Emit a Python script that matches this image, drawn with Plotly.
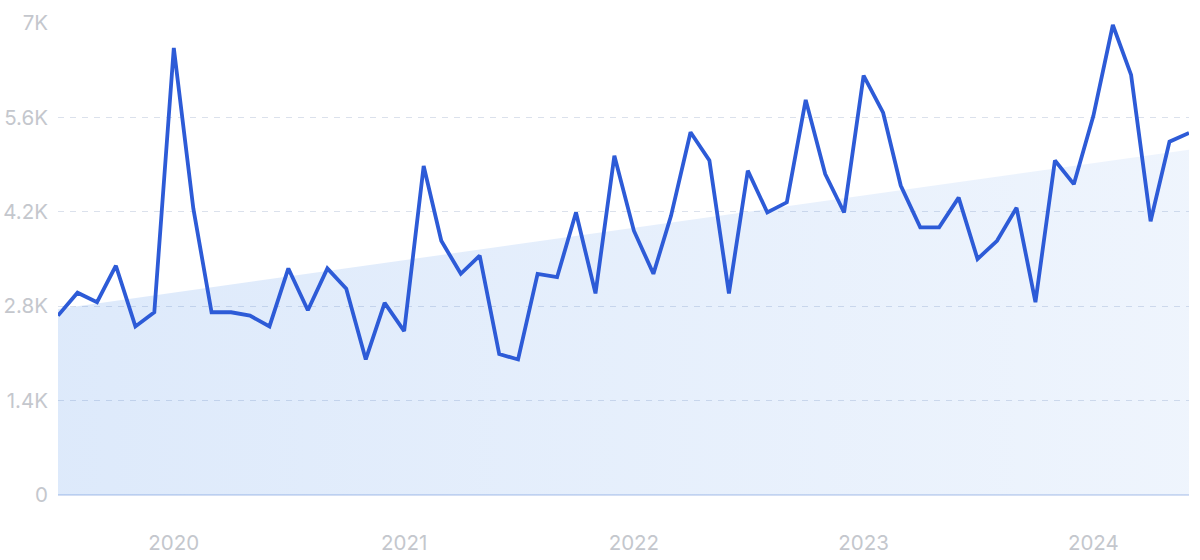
import plotly.graph_objects as go
import pandas as pd

months = pd.date_range("2019-07-01", "2024-06-01", freq="MS")
values = [
    2660, 3000, 2860, 3400, 2500, 2710,   # 2019 Jul-Dec
    6630, 4250, 2710, 2710, 2660, 2500,   # 2020 Jan-Jun
    3360, 2740, 3360, 3060, 2010, 2850,   # 2020 Jul-Dec
    2430, 4880, 3770, 3280, 3550, 2090,   # 2021 Jan-Jun
    2010, 3280, 3230, 4190, 2990, 5030,   # 2021 Jul-Dec
    3920, 3280, 4140, 5380, 4960, 2990,   # 2022 Jan-Jun
    4810, 4190, 4340, 5860, 4760, 4190,   # 2022 Jul-Dec
    6220, 5670, 4590, 3970, 3970, 4410,   # 2023 Jan-Jun
    3500, 3770, 4260, 2860, 4960, 4610,   # 2023 Jul-Dec
    5620, 6970, 6230, 4060, 5240, 5370,   # 2024 Jan-Jun
]
trend_x = ["2019-07-01", "2024-06-01"]
trend_y = [2760, 5120]

y_tickvals = [0, 1400, 2800, 4200, 5600, 7000]
y_ticktext = ["0", "1.4K", "2.8K", "4.2K", "5.6K", "7K"]
x_tickvals = ["2020-01-01", "2021-01-01", "2022-01-01", "2023-01-01", "2024-01-01"]
x_ticktext = ["2020", "2021", "2022", "2023", "2024"]

fig = go.Figure()
fig.add_trace(go.Scatter(
    x=trend_x, y=trend_y, mode="lines", line=dict(width=0),
    fill="tozeroy",
    fillgradient=dict(type="horizontal",
                      colorscale=[[0, "rgba(50,125,230,0.165)"], [1, "rgba(50,125,230,0.08)"]]),
    hoverinfo="skip", showlegend=False,
))
fig.add_trace(go.Scatter(
    x=months, y=values, mode="lines",
    line=dict(color="#2d5bd7", width=3.8),
    showlegend=False,
))

tickfont = dict(family="Inter, Roboto, sans-serif", size=20.5, color="#c4c7cd")
fig.update_layout(
    width=1200, height=560,
    margin=dict(l=58, r=11, t=23, b=65),
    paper_bgcolor="white", plot_bgcolor="white",
    xaxis=dict(
        range=["2019-07-01", "2024-06-01"],
        tickvals=x_tickvals, ticktext=x_ticktext,
        showgrid=False, showline=False, zeroline=False, automargin=False,
        ticks="", ticklabelstandoff=33, tickfont=tickfont,
    ),
    yaxis=dict(
        range=[0, 7000],
        tickvals=y_tickvals, ticktext=y_ticktext,
        showgrid=True, gridcolor="#dbe1ec", griddash="6px,6px", gridwidth=1.2,
        zeroline=True, zerolinecolor="#d3def3", zerolinewidth=1.5,
        showline=False, ticks="", ticklabelstandoff=9, tickfont=tickfont,
        automargin=False,
    ),
)

fig.write_html("out.html", config={"displayModeBar": False},
               post_script="document.body.style.margin='0px';")
